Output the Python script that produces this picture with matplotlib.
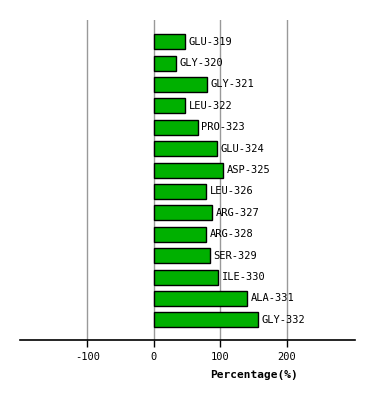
import numpy as np
import matplotlib
matplotlib.use("Agg")
import matplotlib.pyplot as plt

# residue labels and percentages, top to bottom
residues = ["GLU-319", "GLY-320", "GLY-321", "LEU-322", "PRO-323", "GLU-324", "ASP-325",
            "LEU-326", "ARG-327", "ARG-328", "SER-329", "ILE-330", "ALA-331", "GLY-332"]
percent = [47, 33.5, 80, 47, 66.5, 95, 104, 78.5, 87.5, 78.5, 84.5, 96.5, 140, 156.5]
xticks = [-100, 0, 100, 200]

fig = plt.figure(figsize=(3.74, 4.0), dpi=100)
ax = fig.add_axes([20 / 374, 0.15, 335 / 374, 0.80])

ypos = np.arange(len(residues))
ax.barh(ypos, percent, height=0.7, color="#00b000", edgecolor="black", linewidth=1, zorder=3)

for y, v, name in zip(ypos, percent, residues):
    ax.text(v + 5, y, name, va="center", ha="left", fontsize=7.5,
            family="DejaVu Sans Mono", zorder=4)

ax.set_xlim(-201, 302)
ax.set_ylim(13.94, -1.01)
ax.set_xticks(xticks)
ax.set_xticklabels([str(t) for t in xticks], family="DejaVu Sans Mono", fontsize=7.5)
ax.set_yticks([])
ax.grid(axis="x", color="#999999", linewidth=1, zorder=0)

for s in ["top", "right", "left"]:
    ax.spines[s].set_visible(False)
ax.spines["bottom"].set_linewidth(1.2)
ax.tick_params(axis="x", length=5, width=1, color="black", pad=4)

fig.text(254 / 374, 1 - 375 / 400, "Percentage(%)", ha="center", va="center",
         fontsize=8, fontweight="bold", family="DejaVu Sans Mono")

fig.savefig("out.png", dpi=100)
